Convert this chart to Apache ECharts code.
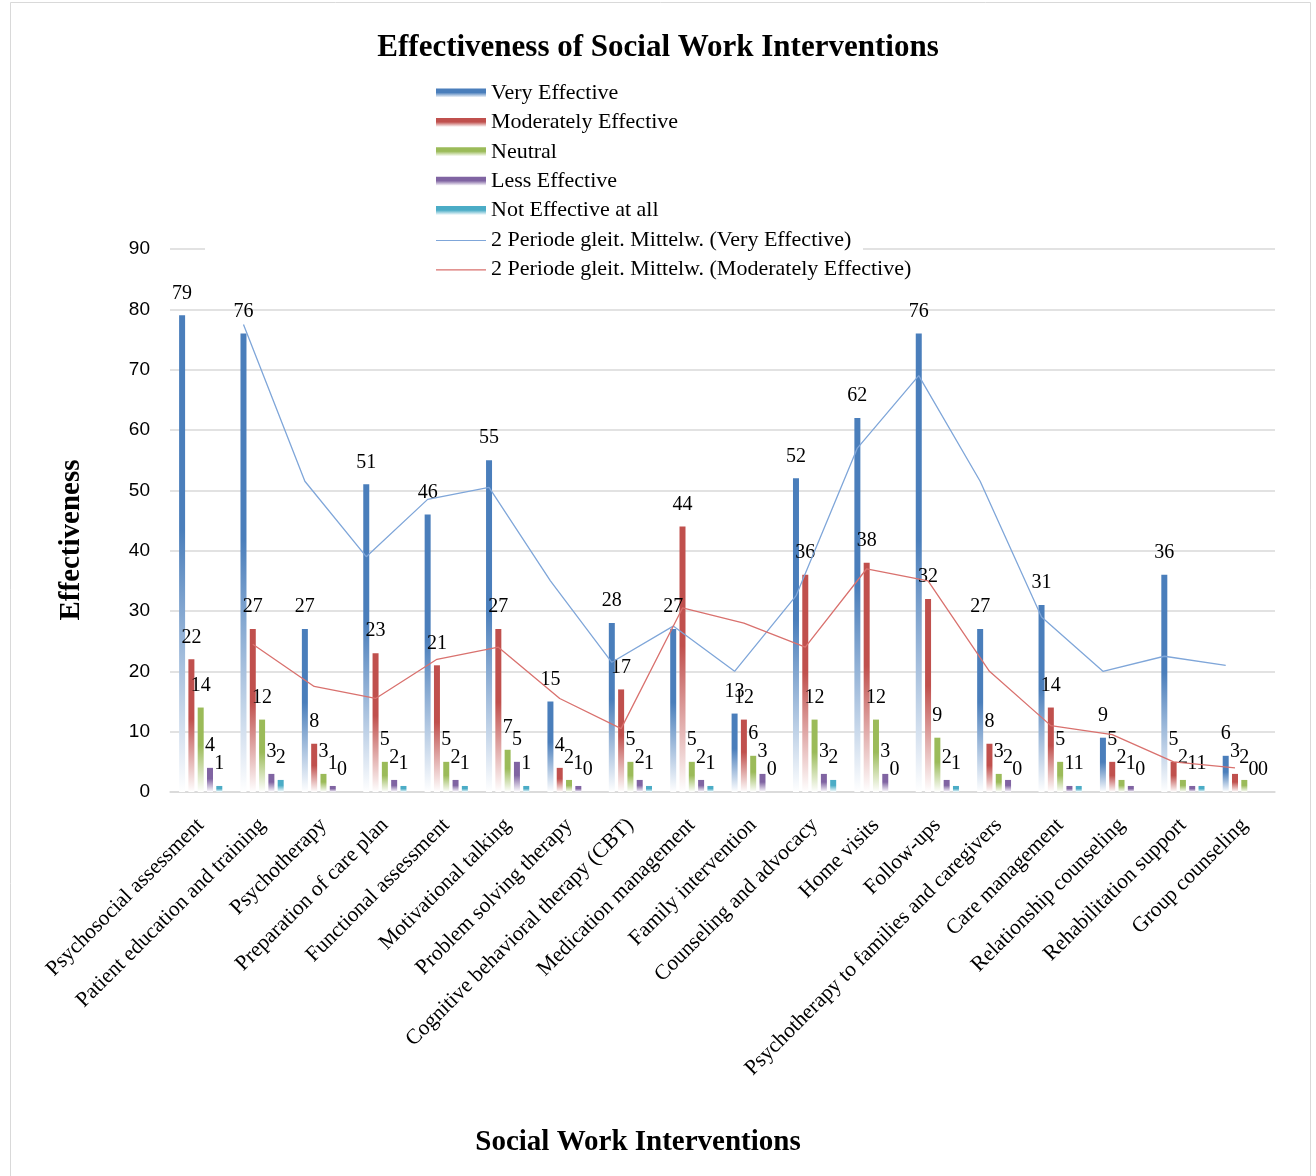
<!DOCTYPE html>
<html>
<head>
<meta charset="utf-8">
<title>Effectiveness of Social Work Interventions</title>
<script src="https://cdn.jsdelivr.net/npm/echarts@6/dist/echarts.min.js"></script>
<style>
  html, body { margin: 0; padding: 0; background: #fff; }
  #chart { width: 1316px; height: 1176px; }
</style>
</head>
<body>
<div id="chart"></div>
<script>
// Interventions shown on the category axis
const categories = [
  'Psychosocial assessment',
  'Patient education and training',
  'Psychotherapy',
  'Preparation of care plan',
  'Functional assessment',
  'Motivational talking',
  'Problem solving therapy',
  'Cognitive behavioral therapy (CBT)',
  'Medication management',
  'Family intervention',
  'Counseling and advocacy',
  'Home visits',
  'Follow-ups',
  'Psychotherapy to families and caregivers',
  'Care management',
  'Relationship counseling',
  'Rehabilitation support',
  'Group counseling'
];

// Number of responses per rating
const veryEffective       = [79, 76, 27, 51, 46, 55, 15, 28, 27, 13, 52, 62, 76, 27, 31, 9, 36, 6];
const moderatelyEffective = [22, 27, 8, 23, 21, 27, 4, 17, 44, 12, 36, 38, 32, 8, 14, 5, 5, 3];
const neutral             = [14, 12, 3, 5, 5, 7, 2, 5, 5, 6, 12, 12, 9, 3, 5, 2, 2, 2];
const lessEffective       = [4, 3, 1, 2, 2, 5, 1, 2, 2, 3, 3, 3, 2, 2, 1, 1, 1, 0];
const notEffective        = [1, 2, 0, 1, 1, 1, 0, 1, 1, 0, 2, 0, 1, 0, 1, 0, 1, 0];

// 2-period moving averages (trend lines)
const maVeryEffective       = [null, 77.5, 51.5, 39, 48.5, 50.5, 35, 21.5, 27.5, 20, 32.5, 57, 69, 51.5, 29, 20, 22.5, 21];
const maModeratelyEffective = [null, 24.5, 17.5, 15.5, 22, 24, 15.5, 10.5, 30.5, 28, 24, 37, 35, 20, 11, 9.5, 5, 4];

// Value axis ticks
const yTicks = { min: 0, max: 90, interval: 10 };

const SERIF = '"Liberation Serif", "Times New Roman", serif';
const SANS = '"Liberation Sans", Arial, sans-serif';

// Bar layout: five thin bars per category
const GRID = { left: 170, right: 41, top: 249, bottom: 384 };
const CHART_W = 1316;
const BAR_W = 6;
const BAR_GAP = 0.55;
const catWidthPx = (CHART_W - GRID.left - GRID.right) / categories.length;
const barStep = BAR_W * (1 + BAR_GAP) / catWidthPx;   // one bar slot, in category units

// A trend line is drawn through the bars of the series it follows
function trendPoints(values, slot) {
  const shift = (slot - 2) * barStep;
  const pts = [];
  values.forEach(function (v, i) {
    if (v !== null) pts.push([i + shift, v]);
  });
  return pts;
}

function fade(color) {
  return new echarts.graphic.LinearGradient(0, 0, 0, 1, [
    { offset: 0, color: color },
    { offset: 0.45, color: color },
    { offset: 1, color: '#ffffff' }
  ]);
}

function barSeries(name, data, color) {
  return {
    name: name,
    type: 'bar',
    data: data,
    barWidth: BAR_W,
    barGap: (BAR_GAP * 100) + '%',
    itemStyle: { color: fade(color) },
    label: {
      show: true,
      position: 'top',
      distance: 12,
      fontFamily: SERIF,
      fontSize: 20,
      color: '#000'
    },
    z: 2
  };
}

function lineSeries(name, data, color) {
  return {
    name: name,
    type: 'line',
    xAxisIndex: 1,
    data: data,
    symbol: 'none',
    showSymbol: false,
    lineStyle: { color: color, width: 1.3 },
    itemStyle: { color: color },
    z: 3
  };
}

// thin horizontal stroke used as the legend icon of the trend lines
const LINE_ICON = 'path://M0,0h0.01v0.01h-0.01z M0,4.4h50v1.2h-50z M49.99,8.99h0.01v0.01h-0.01z';

const chart = echarts.init(document.getElementById('chart'), null, { renderer: 'canvas' });

chart.setOption({
  backgroundColor: '#ffffff',
  animation: false,
  title: {
    text: 'Effectiveness of Social Work Interventions',
    left: 'center',
    top: 27,
    textStyle: { fontFamily: SERIF, fontSize: 31, fontWeight: 'bold', color: '#000' }
  },
  legend: {
    orient: 'vertical',
    left: 431,
    top: 77,
    itemWidth: 50,
    itemHeight: 9,
    itemGap: 7.4,
    textStyle: { fontFamily: SERIF, fontSize: 22, color: '#000', lineHeight: 20 },
    data: [
      { name: 'Very Effective', icon: 'rect' },
      { name: 'Moderately Effective', icon: 'rect' },
      { name: 'Neutral', icon: 'rect' },
      { name: 'Less Effective', icon: 'rect' },
      { name: 'Not Effective at all', icon: 'rect' },
      { name: '2 Periode gleit. Mittelw. (Very Effective)', icon: LINE_ICON },
      { name: '2 Periode gleit. Mittelw. (Moderately Effective)', icon: LINE_ICON }
    ]
  },
  grid: { left: GRID.left, right: GRID.right, top: GRID.top, bottom: GRID.bottom, containLabel: false },
  xAxis: [
    {
      type: 'category',
      data: categories,
      axisLine: { lineStyle: { color: '#d9d9d9', width: 1.5 } },
      axisTick: { show: false },
      axisLabel: {
        interval: 0,
        rotate: 45,
        margin: 30,
        fontFamily: SERIF,
        fontSize: 21.5,
        color: '#000'
      }
    },
    {
      // same span as the category axis, used to place the trend lines
      type: 'value',
      min: -0.5,
      max: categories.length - 0.5,
      show: false
    }
  ],
  yAxis: {
    type: 'value',
    min: yTicks.min,
    max: yTicks.max,
    interval: yTicks.interval,
    axisLine: { show: false },
    axisTick: { show: false },
    splitLine: { lineStyle: { color: '#d9d9d9', width: 1.5 } },
    axisLabel: { margin: 20, fontFamily: SANS, fontSize: 19, color: '#000' }
  },
  graphic: [
    {
      type: 'rect',
      z: -10,
      silent: true,
      shape: { x: 10.5, y: 2.5, width: 1300, height: 1200 },
      style: { fill: 'none', stroke: '#d9d9d9', lineWidth: 1 }
    },
    {
      // blank strip behind the legend rows over the top gridline
      type: 'rect',
      z: 1,
      silent: true,
      shape: { x: 205, y: 243, width: 658, height: 12 },
      style: { fill: '#ffffff' }
    },
    {
      type: 'text',
      z: 5,
      x: 72,
      y: 540,
      rotation: Math.PI / 2,
      style: {
        text: 'Effectiveness',
        fontFamily: SERIF,
        fontSize: 29,
        fontWeight: 'bold',
        fill: '#000',
        align: 'center',
        verticalAlign: 'middle'
      }
    },
    {
      type: 'text',
      z: 5,
      x: 638,
      y: 1143,
      style: {
        text: 'Social Work Interventions',
        fontFamily: SERIF,
        fontSize: 29,
        fontWeight: 'bold',
        fill: '#000',
        align: 'center',
        verticalAlign: 'middle'
      }
    }
  ],
  series: [
    barSeries('Very Effective', veryEffective, '#4a7ebb'),
    barSeries('Moderately Effective', moderatelyEffective, '#c0504d'),
    barSeries('Neutral', neutral, '#9bbb59'),
    barSeries('Less Effective', lessEffective, '#8064a2'),
    barSeries('Not Effective at all', notEffective, '#4bacc6'),
    lineSeries('2 Periode gleit. Mittelw. (Very Effective)', trendPoints(maVeryEffective, 0), '#7fa6d9'),
    lineSeries('2 Periode gleit. Mittelw. (Moderately Effective)', trendPoints(maModeratelyEffective, 1), '#d9716e')
  ]
});
</script>
</body>
</html>
